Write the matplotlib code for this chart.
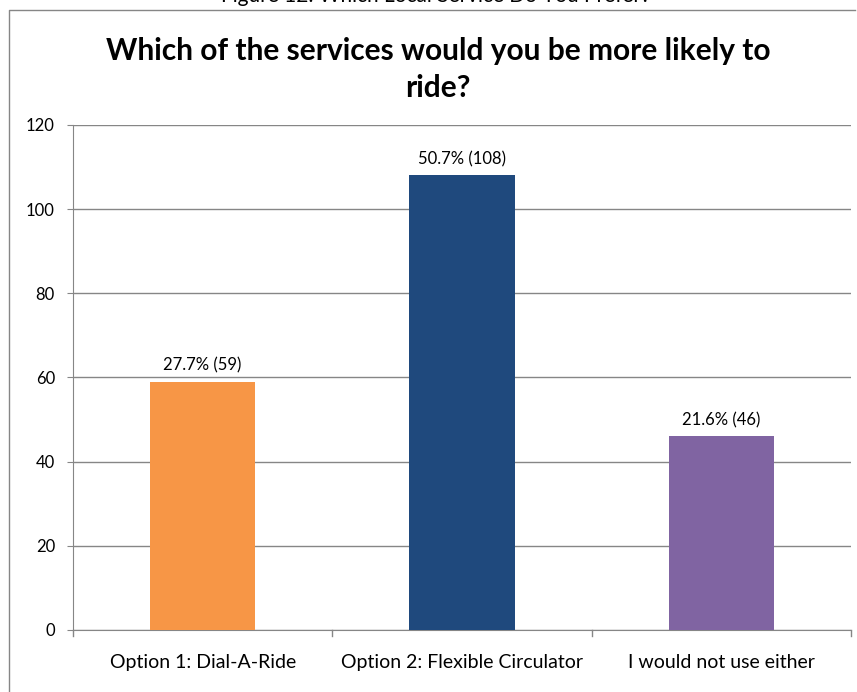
import matplotlib.pyplot as plt
from matplotlib.lines import Line2D

# Data
categories = ["Option 1: Dial-A-Ride", "Option 2: Flexible Circulator", "I would not use either"]
counts = [59, 108, 46]
percents = [27.7, 50.7, 21.6]
bar_colors = ["#F79646", "#1F497D", "#8064A2"]
y_ticks = [0, 20, 40, 60, 80, 100, 120]

plt.rcParams["font.family"] = ["Lato", "DejaVu Sans"]

fig = plt.figure(figsize=(8.57, 6.92), dpi=100)
ax = fig.add_axes([0.0852, 0.0896, 0.9078, 0.7298])

x = range(len(categories))
ax.bar(x, counts, width=0.405, color=bar_colors, zorder=3)

# value labels above bars
for i, (c, p) in enumerate(zip(counts, percents)):
    ax.annotate(f"{p}% ({c})", (i, c), xytext=(0, 6), textcoords="offset points",
                ha="center", va="bottom", fontsize=12, color="#000000")

ax.set_xlim(-0.5, len(categories) - 0.5)
ax.set_ylim(0, 120)
ax.set_yticks(y_ticks)
ax.set_yticklabels([str(v) for v in y_ticks], fontsize=12)
ax.yaxis.grid(True, color="#868686", linewidth=1.0, zorder=0)

# category labels centered, separator ticks between categories
ax.set_xticks(list(x))
ax.set_xticklabels(categories, fontsize=14)
ax.tick_params(axis="x", length=0, pad=17)
ax.tick_params(axis="y", length=4, color="#868686", pad=9)
for b in [-0.5, 0.5, 1.5, 2.5]:
    ax.plot([b, b], [0, -1.4], color="#868686", linewidth=1.0, clip_on=False)

for side in ["top", "right"]:
    ax.spines[side].set_visible(False)
ax.spines["left"].set_color("#868686")
ax.spines["bottom"].set_color("#868686")

# title
fig.text(0.511, 0.90, "Which of the services would you be more likely to\nride?",
         ha="center", va="center", fontsize=21.5, fontweight="bold", linespacing=1.4)

# caption clipped by top edge
fig.text(0.508, 0.992, "Figure 12: Which Local Service Do You Prefer?",
         ha="center", va="bottom", fontsize=15)

# outer chart border
fig.add_artist(Line2D([0.0105, 0.0105, 0.998], [0.0, 0.9855, 0.9855],
                      transform=fig.transFigure, color="#868686", linewidth=1.0))

fig.savefig("out.png", dpi=100)
